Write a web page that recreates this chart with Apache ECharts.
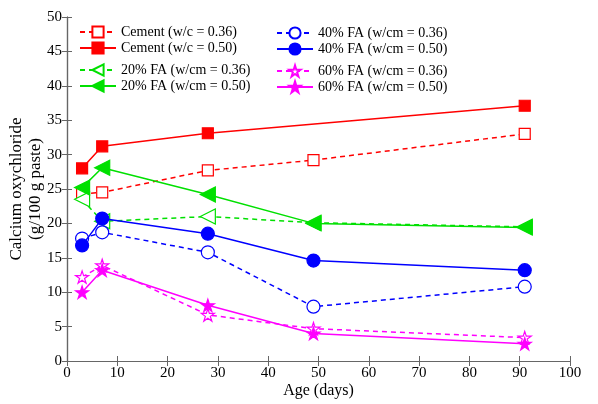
<!DOCTYPE html>
<html lang="en">
<head>
    <meta charset="UTF-8">
    <title>Calcium oxychloride vs age</title>
    <script src="https://cdn.jsdelivr.net/npm/echarts@6/dist/echarts.min.js"></script>
    <style>
        body, html { margin: 0; padding: 0; background: #fff; }
        #chart { width: 598px; height: 404px; }
    </style>
</head>
<body>
    <div id="chart"></div>
    <script>
        // ages (days)
        var ages = [3, 7, 28, 49, 91];
        var agesCementHigh = [3, 7, 28, 91];

        var cement036 = [24.3, 24.5, 27.7, 29.2, 33.0];
        var cement050 = [28.0, 31.2, 33.1, 37.1];
        var fa20_036 = [23.5, 20.3, 21.0, 20.1, 19.5];
        var fa20_050 = [25.2, 28.1, 24.2, 20.0, 19.4];
        var fa40_036 = [17.8, 18.7, 15.8, 7.9, 10.8];
        var fa40_050 = [16.8, 20.7, 18.5, 14.6, 13.2];
        var fa60_036 = [12.2, 13.9, 6.7, 4.7, 3.4];
        var fa60_050 = [10.0, 13.2, 8.1, 4.0, 2.5];

        var xTicks = [0, 10, 20, 30, 40, 50, 60, 70, 80, 90, 100];
        var yTicks = [0, 5, 10, 15, 20, 25, 30, 35, 40, 45, 50];

        var star = 'path://M50 0 L61.17 34.63 L97.55 34.55 L68.07 55.87 L79.39 90.45 L50 69 L20.61 90.45 L31.93 55.87 L2.45 34.55 L38.83 34.63 Z';
        var font = '"Liberation Serif", "Times New Roman", serif';

        function pairs(xs, ys) {
            return xs.map(function (x, i) { return [x, ys[i]]; });
        }

        function mk(name, xs, ys, color, dashed, symbol, size, filled, rotate) {
            return {
                name: name,
                type: 'line',
                data: pairs(xs, ys),
                symbol: symbol,
                symbolSize: size,
                symbolRotate: rotate || 0,
                symbolKeepAspect: true,
                showAllSymbol: true,
                lineStyle: { color: color, width: 1.5, type: dashed ? [5, 4] : 'solid' },
                itemStyle: { color: filled ? color : '#fff', borderColor: color, borderWidth: 1.2 },
                emphasis: { disabled: true },
                z: filled ? 3 : 2
            };
        }

        var names = {
            c36: 'Cement (w/c = 0.36)', c50: 'Cement (w/c = 0.50)',
            f20a: '20% FA (w/cm = 0.36)', f20b: '20% FA (w/cm = 0.50)',
            f40a: '40% FA (w/cm = 0.36)', f40b: '40% FA (w/cm = 0.50)',
            f60a: '60% FA (w/cm = 0.36)', f60b: '60% FA (w/cm = 0.50)'
        };

        function legend(data, left, top) {
            return {
                data: data, left: left, top: top, orient: 'vertical',
                itemWidth: 36, itemHeight: 14, itemGap: 2, padding: 0,
                textStyle: { fontFamily: font, fontSize: 14, color: '#000' }
            };
        }

        var axisCommon = {
            axisLine: { show: true, lineStyle: { color: '#666', width: 1.2 } },
            axisTick: { show: true, inside: true, length: 5, lineStyle: { color: '#666' } },
            splitLine: { show: false }
        };

        var option = {
            backgroundColor: '#fff',
            animation: false,
            grid: { left: 67, right: 28, top: 17, bottom: 43, containLabel: false, outerBoundsMode: 'none' },
            legend: [
                legend([names.c36, names.c50], 79, 25),
                legend([names.f20a, names.f20b], 79, 63),
                legend([names.f40a, names.f40b], 276, 26),
                legend([names.f60a, names.f60b], 276, 64)
            ],
            xAxis: [
                Object.assign({
                    type: 'value', min: 0, max: 100, interval: 10, position: 'bottom',
                    name: 'Age (days)', nameLocation: 'middle', nameGap: 22, nameMoveOverlap: false,
                    nameTextStyle: { fontFamily: font, fontSize: 16, color: '#000' },
                    axisLabel: { fontFamily: font, fontSize: 15, color: '#000', margin: 5,
                        formatter: function (v) { return xTicks.indexOf(v) >= 0 ? v : ''; } }
                }, axisCommon),
                Object.assign({
                    type: 'value', min: 0, max: 100, interval: 10, position: 'top',
                    axisLabel: { show: false }
                }, axisCommon)
            ],
            yAxis: [
                Object.assign({
                    type: 'value', min: 0, max: 50, interval: 5, position: 'left',
                    name: 'Calcium oxychloride\n(g/100 g paste)', nameLocation: 'middle', nameGap: 22,
                    nameMoveOverlap: false,
                    nameTextStyle: { fontFamily: font, fontSize: 17, color: '#000', lineHeight: 19 },
                    axisLabel: { fontFamily: font, fontSize: 15, color: '#000', margin: 5,
                        formatter: function (v) { return yTicks.indexOf(v) >= 0 ? v : ''; } }
                }, axisCommon),
                Object.assign({
                    type: 'value', min: 0, max: 50, interval: 5, position: 'right',
                    axisLabel: { show: false }
                }, axisCommon)
            ],
            series: [
                mk(names.c36, ages, cement036, '#ff0000', true, 'rect', 11, false),
                mk(names.c50, agesCementHigh, cement050, '#ff0000', false, 'rect', 11, true),
                mk(names.f20a, ages, fa20_036, '#00e000', true, 'triangle', 15, false, 90),
                mk(names.f20b, ages, fa20_050, '#00e000', false, 'triangle', 15, true, 90),
                mk(names.f40a, ages, fa40_036, '#0000ff', true, 'circle', 13, false),
                mk(names.f40b, ages, fa40_050, '#0000ff', false, 'circle', 13, true),
                mk(names.f60a, ages, fa60_036, '#ff00ff', true, star, 13, false),
                mk(names.f60b, ages, fa60_050, '#ff00ff', false, star, 13, true)
            ]
        };

        var chart = echarts.init(document.getElementById('chart'));
        chart.setOption(option);
    </script>
</body>
</html>
